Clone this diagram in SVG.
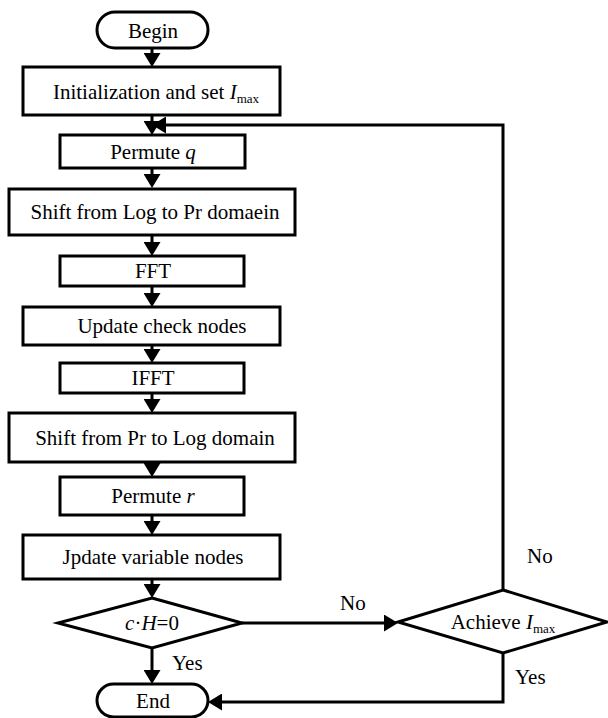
<svg xmlns="http://www.w3.org/2000/svg" width="608" height="718" viewBox="0 0 608 718">
<style>
.box{fill:#fff;stroke:#000;stroke-width:3}
.t{font-family:"Liberation Serif","Times New Roman",serif;font-size:21px;fill:#000}
.c{text-anchor:middle}
.i{font-style:italic}
.sub{font-size:13px}
.ln{fill:none;stroke:#000;stroke-width:3}
</style>
<defs>
<marker id="arr" viewBox="0 0 14 17" markerWidth="14" markerHeight="17" markerUnits="userSpaceOnUse" refX="10" refY="8.5" orient="auto">
<path d="M0,0 L14,8.5 L0,17 z" fill="#000"/>
</marker>
</defs>
<rect width="608" height="718" fill="#fff"/>
<g id="connectors">
<path class="ln" d="M152,48 V63" marker-end="url(#arr)"/>
<path class="ln" d="M152,115 V131" marker-end="url(#arr)"/>
<path class="ln" d="M152,168 V184" marker-end="url(#arr)"/>
<path class="ln" d="M152,235 V252" marker-end="url(#arr)"/>
<path class="ln" d="M152,286 V303" marker-end="url(#arr)"/>
<path class="ln" d="M152,345 V359" marker-end="url(#arr)"/>
<path class="ln" d="M152,393 V409" marker-end="url(#arr)"/>
<path class="ln" d="M152,462 V473" marker-end="url(#arr)"/>
<path class="ln" d="M152,515 V531" marker-end="url(#arr)"/>
<path class="ln" d="M152,579 V594" marker-end="url(#arr)"/>
<path class="ln" d="M152,648 V680" marker-end="url(#arr)"/>
<path class="ln" d="M242,623 H394" marker-end="url(#arr)"/>
<path class="ln" d="M503,590 V125 H156" marker-end="url(#arr)"/>
<path class="ln" d="M503,653 V702 H212" marker-end="url(#arr)"/>
<text class="t" x="340" y="610">No</text>
<text class="t" x="527" y="563">No</text>
<text class="t" x="172" y="670">Yes</text>
<text class="t" x="515" y="684">Yes</text>
</g>
<g id="begin">
<rect class="box" x="97" y="12" width="111" height="36" rx="18"/>
<text class="t c" x="153" y="38">Begin</text>
</g>
<g id="init">
<rect class="box" x="23" y="67" width="257" height="48"/>
<text class="t c" x="156" y="99">Initialization and set <tspan class="i">I</tspan><tspan class="sub" dy="4">max</tspan></text>
</g>
<g id="permq">
<rect class="box" x="60" y="135" width="185" height="33"/>
<text class="t c" x="153" y="159">Permute <tspan class="i">q</tspan></text>
</g>
<g id="shift1">
<rect class="box" x="9" y="189" width="286" height="46"/>
<text class="t c" x="155" y="219">Shift from Log to Pr domaein</text>
</g>
<g id="fft">
<rect class="box" x="60" y="256" width="184" height="30"/>
<text class="t c" x="153" y="278">FFT</text>
</g>
<g id="ucheck">
<rect class="box" x="23" y="307" width="257" height="38"/>
<text class="t c" x="162" y="333">Update check nodes</text>
</g>
<g id="ifft">
<rect class="box" x="60" y="363" width="184" height="30"/>
<text class="t c" x="153" y="385">IFFT</text>
</g>
<g id="shift2">
<rect class="box" x="9" y="413" width="286" height="49"/>
<text class="t c" x="155" y="445">Shift from Pr to Log domain</text>
</g>
<g id="permr">
<rect class="box" x="60" y="477" width="184" height="38"/>
<text class="t c" x="153" y="503">Permute <tspan class="i">r</tspan></text>
</g>
<g id="uvar">
<rect class="box" x="23" y="535" width="257" height="44"/>
<text class="t c" x="153" y="564">Jpdate variable nodes</text>
</g>
<g id="check">
<polygon class="box" points="152,598 242,623 152,648 58,623"/>
<text class="t c" x="152" y="630"><tspan class="i">c</tspan>·<tspan class="i">H</tspan>=0</text>
</g>
<g id="achieve">
<polygon class="box" points="503,590 607,622 503,653 398,622"/>
<text class="t c" x="503" y="629">Achieve <tspan class="i">I</tspan><tspan class="sub" dy="4">max</tspan></text>
</g>
<g id="end">
<rect class="box" x="97" y="684" width="111" height="33" rx="16.5"/>
<text class="t c" x="153" y="708">End</text>
</g>
</svg>
